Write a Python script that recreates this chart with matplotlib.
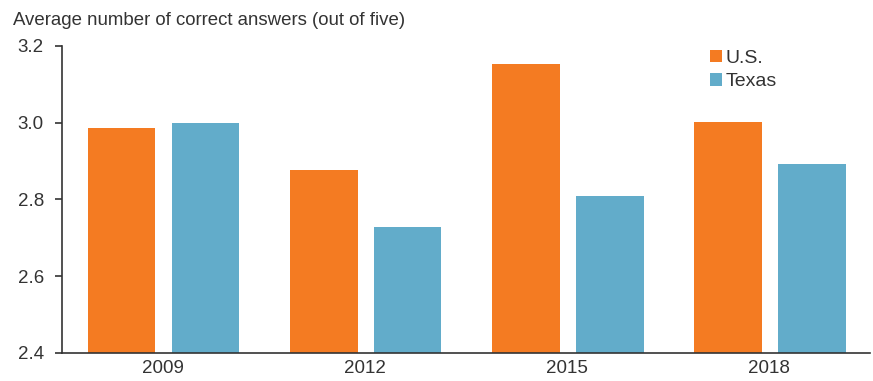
import matplotlib.pyplot as plt
import numpy as np

plt.rcParams['font.family'] = ['Liberation Sans', 'DejaVu Sans']

# Data
years = ['2009', '2012', '2015', '2018']
us_vals = [2.987, 2.878, 3.154, 3.003]
texas_vals = [2.999, 2.729, 2.810, 2.893]
y_ticks = [2.4, 2.6, 2.8, 3.0, 3.2]

orange = '#F47B22'
blue = '#62ACCA'
txt = '#333333'

fig = plt.figure(figsize=(8.73, 3.81), dpi=100)
ax = fig.add_axes([0.071, 0.0735, 0.926, 0.806])

x = np.arange(len(years))
w = 0.335
ax.bar(x - 0.205, us_vals, w, color=orange, label='U.S.')
ax.bar(x + 0.21, texas_vals, w, color=blue, label='Texas')

ax.set_ylim(2.4, 3.2)
ax.set_xlim(-0.5, 3.5)
ax.set_yticks(y_ticks)
ax.set_yticklabels(['%.1f' % v for v in y_ticks])
ax.set_xticks(x)
ax.set_xticklabels(years)

for s in ['top', 'right']:
    ax.spines[s].set_visible(False)
for s in ['left', 'bottom']:
    ax.spines[s].set_color(txt)
    ax.spines[s].set_linewidth(1.2)
ax.tick_params(axis='y', length=5, width=1.2, color=txt, labelsize=13.5, labelcolor=txt, pad=8)
ax.tick_params(axis='x', length=0, labelsize=13.5, labelcolor=txt, pad=5)

fig.text(0.015, 0.945, 'Average number of correct answers (out of five)',
         fontsize=13.4, color=txt, va='center', ha='left')

leg = ax.legend(loc='upper left', bbox_to_anchor=(0.78, 1.045), frameon=False,
                fontsize=14, handlelength=0.6, handleheight=0.6, handletextpad=0.2,
                labelspacing=0.35)
for t in leg.get_texts():
    t.set_color(txt)

fig.savefig('out.png', dpi=100)
